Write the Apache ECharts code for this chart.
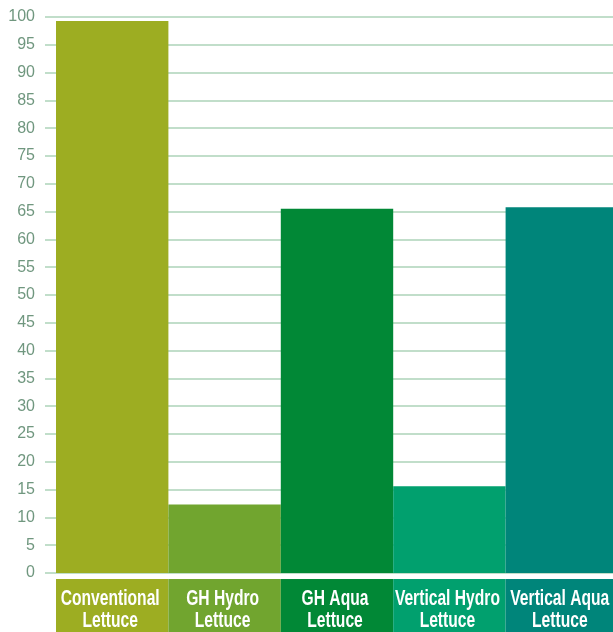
<!DOCTYPE html>
<html>
<head>
<meta charset="utf-8">
<script src="https://cdn.jsdelivr.net/npm/echarts@6/dist/echarts.min.js"></script>
<style>html,body{margin:0;padding:0;background:#fff;}#c{width:613px;height:632px;}</style>
</head>
<body>
<div id="c"></div>
<script>
const categories = ['Conventional Lettuce', 'GH Hydro Lettuce', 'GH Aqua Lettuce', 'Vertical Hydro Lettuce', 'Vertical Aqua Lettuce'];
const values = [99.3, 12.3, 65.5, 15.6, 65.8];
const colors = ['#9dad22', '#71a52f', '#018836', '#01a06e', '#00857a'];
const yMin = 0, yMax = 100, yStep = 5;

const chart = echarts.init(document.getElementById('c'), null, {renderer: 'canvas'});
const splitName = s => { const i = s.lastIndexOf(' '); return s.slice(0, i) + '\n' + s.slice(i + 1); };

chart.setOption({
  animation: false,
  grid: [
    {left: 45, right: 0, top: 17, bottom: 59},
    {left: 56, width: 562, top: 17, bottom: 59, outerBoundsMode: 'none', containLabel: false},
    {left: 56, width: 562, top: 579, bottom: 0, outerBoundsMode: 'none', containLabel: false}
  ],
  xAxis: [
    {gridIndex: 0, type: 'category', data: categories, show: false},
    {gridIndex: 1, type: 'category', data: categories, show: false},
    {gridIndex: 2, type: 'category', data: categories, show: false}
  ],
  yAxis: [
    {gridIndex: 0, type: 'value', min: yMin, max: yMax, interval: yStep,
     axisLine: {show: false}, axisTick: {show: false},
     axisLabel: {color: '#70977f', fontSize: 16, margin: 10, fontFamily: "'Liberation Sans', Arial, sans-serif"},
     splitLine: {lineStyle: {color: '#acd3b9', width: 1.5}}},
    {gridIndex: 1, type: 'value', min: yMin, max: yMax, show: false},
    {gridIndex: 2, type: 'value', min: 0, max: 1, show: false}
  ],
  series: [
    {type: 'bar', xAxisIndex: 1, yAxisIndex: 1, barCategoryGap: 0,
     data: values.map((v, i) => ({value: v, itemStyle: {color: colors[i]}}))},
    {type: 'custom', xAxisIndex: 2, yAxisIndex: 2, silent: true,
     data: categories.map((c, i) => [i, 1]),
     encode: {x: 0, y: 1},
     renderItem: (params, api) => {
       const i = params.dataIndex;
       const top = api.coord([api.value(0), 1]);
       const bot = api.coord([api.value(0), 0]);
       const w = api.size([1, 0])[0];
       return {type: 'group', children: [
         {type: 'rect', shape: {x: top[0] - w / 2, y: top[1], width: w, height: bot[1] - top[1]},
          style: {fill: colors[i]}},
         {type: 'text', x: top[0] - 2, y: top[1] + 9, scaleX: 0.71, scaleY: 1,
          style: {text: splitName(categories[i]), fill: '#fff', align: 'center', verticalAlign: 'top',
                  font: "bold 22px 'Liberation Sans', Arial, sans-serif", lineHeight: 22}}
       ]};
     }}
  ]
});
</script>
</body>
</html>
